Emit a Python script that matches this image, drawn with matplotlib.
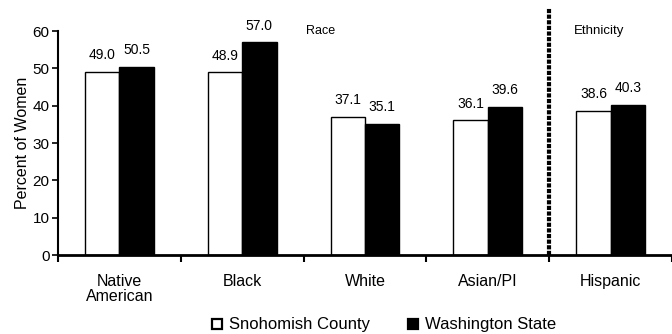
import matplotlib.pyplot as plt
from matplotlib.lines import Line2D

plt.rcParams['font.family'] = ['Liberation Sans', 'DejaVu Sans']

groups = ['Native\nAmerican', 'Black', 'White', 'Asian/PI', 'Hispanic']
snohomish = [49.0, 48.9, 37.1, 36.1, 38.6]
washington = [50.5, 57.0, 35.1, 39.6, 40.3]
yticks = [0, 10, 20, 30, 40, 50, 60]

fig = plt.figure(figsize=(6.72, 3.34), dpi=100)
ax = fig.add_axes([0.0863, 0.2365, 0.9137, 0.6705])

w = 0.28
x = range(len(groups))
xs = [i - w / 2 for i in x]
xw = [i + w / 2 for i in x]
ax.bar(xs, snohomish, w, color='white', edgecolor='black', linewidth=1.0)
ax.bar(xw, washington, w, color='black', edgecolor='black', linewidth=1.0)

for i in x:
    ax.text(xs[i], snohomish[i] + 2.6, f'{snohomish[i]:.1f}', ha='center', va='bottom', fontsize=10)
    ax.text(xw[i], washington[i] + 2.6, f'{washington[i]:.1f}', ha='center', va='bottom', fontsize=10)

ax.set_xlim(-0.5, 4.42)
ax.set_ylim(0, 60)
ax.set_yticks(yticks)
ax.tick_params(axis='y', labelsize=11, length=4, width=1.2, direction='out', pad=2)

# category ticks between groups, labels at group centres
ax.set_xticks([i - 0.5 for i in range(len(groups))] + [4.5])
ax.set_xticklabels([])
ax.set_xticks(list(x), minor=True)
ax.set_xticklabels(groups, minor=True, fontsize=11.5, linespacing=1.0)
ax.tick_params(axis='x', which='major', length=5, width=1.5, direction='out')
ax.tick_params(axis='x', which='minor', length=0, pad=14)

for s in ['top', 'right']:
    ax.spines[s].set_visible(False)
ax.spines['left'].set_linewidth(1.5)
ax.spines['bottom'].set_linewidth(2)

ax.set_ylabel('Percent of Women', fontsize=11.5, labelpad=2)

# divider between race and ethnicity
ax.plot([3.5, 3.5], [0, 1.105], color='black', linewidth=3, linestyle=(0, (1.0, 0.35)),
        transform=ax.get_xaxis_transform(), clip_on=False)
ax.text(1.52, 1.0, 'Race', transform=ax.get_xaxis_transform(), fontsize=9, va='center')
ax.text(3.70, 1.0, 'Ethnicity', transform=ax.get_xaxis_transform(), fontsize=9.5, va='center')

handles = [Line2D([], [], marker='s', linestyle='none', markersize=6.5, markerfacecolor='white',
                  markeredgecolor='black', markeredgewidth=1.6),
           Line2D([], [], marker='s', linestyle='none', markersize=6.5, markerfacecolor='black',
                  markeredgecolor='black', markeredgewidth=1.6)]
fig.legend(handles, ['Snohomish County', 'Washington State'], loc='lower center',
           bbox_to_anchor=(0.57, -0.04), ncol=2, frameon=False, fontsize=12,
           handletextpad=0.3, columnspacing=2.2, handlelength=0.8)

fig.savefig('out.png', dpi=100)
